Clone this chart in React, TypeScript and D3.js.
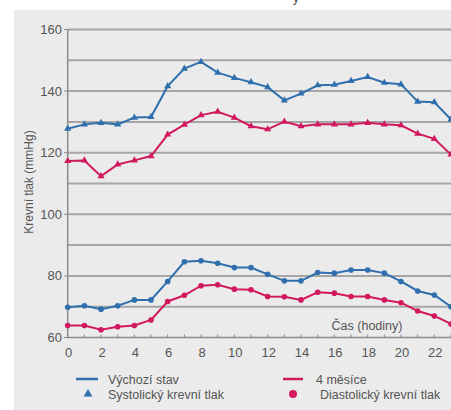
import React from "react";
import * as d3 from "d3";

const hours = d3.range(0, 24);
const sysBaseline = [127.8, 129.2, 129.7, 129.2, 131.4, 131.6, 141.6, 147.3, 149.5, 146, 144.3, 142.9, 141.3, 137, 139.2, 141.9, 142.1, 143.3, 144.6, 142.7, 142.2, 136.6, 136.4, 130.8];
const sys4m = [117.3, 117.5, 112.4, 116.2, 117.5, 118.9, 125.9, 129.1, 132.2, 133.3, 131.4, 128.6, 127.6, 130.1, 128.6, 129.2, 129.2, 129.2, 129.7, 129.2, 128.9, 126.2, 124.5, 119.4];
const diaBaseline = [69.8, 70.3, 69.2, 70.3, 72.2, 72.2, 78.2, 84.6, 84.9, 84.1, 82.7, 82.7, 80.5, 78.4, 78.4, 81.1, 80.9, 81.9, 81.9, 80.9, 78.2, 75.1, 73.8, 70.0];
const dia4m = [63.9, 63.9, 62.5, 63.5, 63.9, 65.7, 71.7, 73.7, 76.8, 77.1, 75.7, 75.5, 73.3, 73.2, 72.2, 74.7, 74.4, 73.3, 73.3, 72.2, 71.3, 68.6, 67, 64.4];
const yTicks = [60, 80, 100, 120, 140, 160];
const yGrid = [70, 80, 90, 100, 110, 120, 130, 140, 150, 160];
const xTickLabels = [0, 2, 4, 6, 8, 10, 12, 14, 16, 18, 20, 22];
const legendItems = ["Výchozí stav", "4 měsíce", "Systolický krevní tlak", "Diastolický krevní tlak"];

const BLUE = "#2f6fae";
const PINK = "#d2195f";

export default function App() {
  const W = 451, H = 410;
  const x = d3.scaleLinear().domain([0, 23]).range([67.7, 451]);
  const y = d3.scaleLinear().domain([60, 160]).range([337.5, 29.5]);
  const line = d3.line<number>().x((_, i) => x(hours[i])).y((d) => y(d));
  const tri = d3.symbol().type(d3.symbolTriangle).size(22)();
  const triLegend = d3.symbol().type(d3.symbolTriangle).size(34)();
  const font = "Liberation Sans, Arial, sans-serif";

  const series = [
    { data: sysBaseline, color: BLUE, marker: "tri" },
    { data: sys4m, color: PINK, marker: "tri" },
    { data: diaBaseline, color: BLUE, marker: "circle" },
    { data: dia4m, color: PINK, marker: "circle" },
  ];

  return (
    <svg width={W} height={H} style={{ position: "absolute", left: 0, top: 0 }} fontFamily={font}>
      <rect x={0} y={0} width={W} height={H} fill="#ffffff" />
      <rect x={14} y={10} width={W - 14} height={H - 10} fill="#ebebeb" />
      <text x={293} y={2} fontSize={12} fill="#444">y</text>
      {yGrid.map((v) => (
        <line key={v} x1={67.7} x2={W} y1={y(v)} y2={y(v)} stroke="#a6a6a6" strokeWidth={2} />
      ))}
      <line x1={67.7} x2={67.7} y1={y(160)} y2={y(60)} stroke="#8c8c8c" strokeWidth={1.5} />
      <line x1={67.7} x2={W} y1={y(60)} y2={y(60)} stroke="#8c8c8c" strokeWidth={1.5} />
      {yTicks.map((v) => (
        <g key={v}>
          <line x1={64} x2={67.7} y1={y(v)} y2={y(v)} stroke="#8c8c8c" strokeWidth={1} />
          <text x={62} y={y(v) + 4.5} fontSize={13} textAnchor="end" fill="#555">{v}</text>
        </g>
      ))}
      {hours.map((h) => (
        <line key={h} x1={x(h)} x2={x(h)} y1={y(60)} y2={y(60) - 3} stroke="#8c8c8c" strokeWidth={1} />
      ))}
      {xTickLabels.map((h) => (
        <text key={h} x={x(h) + 1} y={357} fontSize={13} textAnchor="middle" fill="#555">{h}</text>
      ))}
      <text x={367} y={330} fontSize={12.5} textAnchor="middle" fill="#555">Čas (hodiny)</text>
      <text transform="translate(33,182) rotate(-90)" fontSize={12} textAnchor="middle" fill="#555">Krevní tlak (mmHg)</text>
      {series.map((s, si) => (
        <g key={si}>
          <path d={line(s.data) || ""} fill="none" stroke={s.color} strokeWidth={2} />
          {s.data.map((v, i) =>
            s.marker === "tri" ? (
              <path key={i} d={tri || ""} transform={`translate(${x(hours[i])},${y(v)})`} fill={s.color} />
            ) : (
              <circle key={i} cx={x(hours[i])} cy={y(v)} r={2.8} fill={s.color} />
            )
          )}
        </g>
      ))}
      <line x1={76} x2={98} y1={379} y2={379} stroke={BLUE} strokeWidth={2.5} />
      <text x={108} y={383.5} fontSize={12.5} fill="#555">{legendItems[0]}</text>
      <path d={triLegend || ""} transform="translate(88,394)" fill={BLUE} />
      <text x={108} y={398.5} fontSize={12.5} fill="#555">{legendItems[2]}</text>
      <line x1={283} x2={303} y1={379} y2={379} stroke={PINK} strokeWidth={2.5} />
      <text x={316} y={383.5} fontSize={12.5} fill="#555">{legendItems[1]}</text>
      <circle cx={293} cy={394} r={4} fill={PINK} />
      <text x={320} y={398.5} fontSize={12.5} fill="#555">{legendItems[3]}</text>
    </svg>
  );
}
